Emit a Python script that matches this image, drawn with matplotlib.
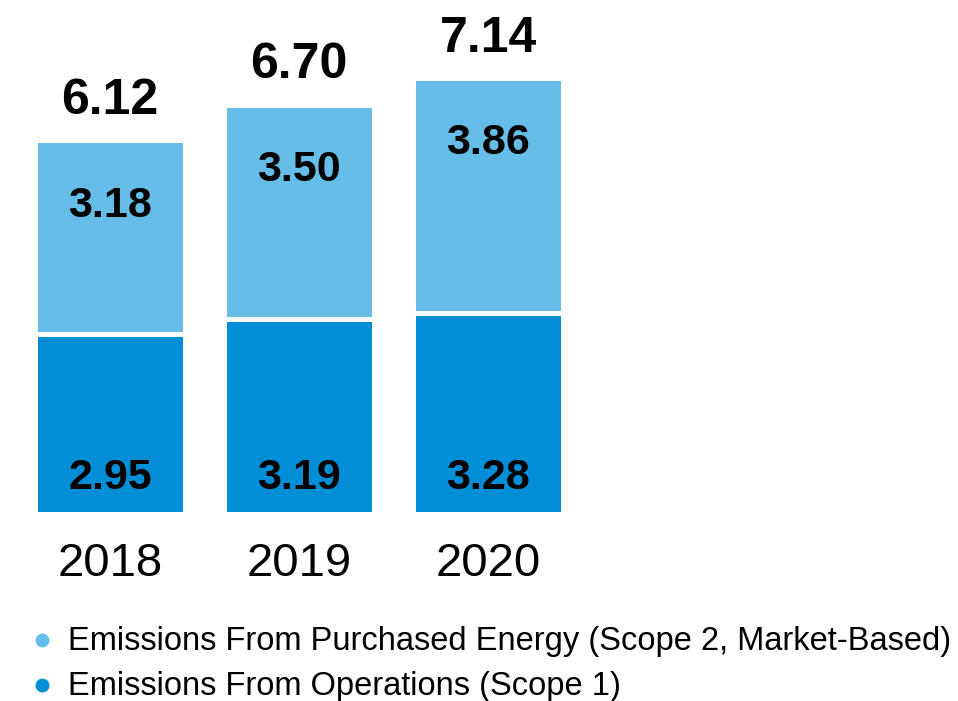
import numpy as np
import matplotlib.pyplot as plt

plt.rcParams['font.family'] = ['Liberation Sans', 'DejaVu Sans']

years = ['2018', '2019', '2020']
scope1 = [2.95, 3.19, 3.28]   # operations
scope2 = [3.18, 3.50, 3.86]   # purchased energy, market-based
totals = [6.12, 6.70, 7.14]
legend_labels = ['Emissions From Purchased Energy (Scope 2, Market-Based)',
                 'Emissions From Operations (Scope 1)']

c_light = '#66BDE8'
c_dark = '#008FD7'

fig = plt.figure(figsize=(9.58, 7.01), dpi=100)
ax = fig.add_axes([0, 0, 1, 1])

x = np.arange(len(years))
px = 189.0   # pixels per category
py = 61.0    # pixels per unit
y0 = 513.5   # pixel row of zero
ax.set_xlim(-110 / px, (958 - 110) / px)
ax.set_ylim(-(701 - y0) / py, y0 / py)
ax.axis('off')

ax.bar(x, scope1, width=0.79, color=c_dark, edgecolor='white', linewidth=3.6)
ax.bar(x, scope2, bottom=scope1, width=0.79, color=c_light, edgecolor='white', linewidth=3.6)

for i in range(len(years)):
    ax.annotate('%.2f' % totals[i], xy=(x[i], totals[i]), xytext=(0, 19),
                textcoords='offset points', ha='center', va='baseline',
                fontsize=36, fontweight='bold')
    ax.annotate('%.2f' % scope2[i], xy=(x[i], totals[i]), xytext=(0, -55),
                textcoords='offset points', ha='center', va='baseline',
                fontsize=31, fontweight='bold')
    ax.annotate('%.2f' % scope1[i], xy=(x[i], 0), xytext=(0, 17.5),
                textcoords='offset points', ha='center', va='baseline',
                fontsize=31, fontweight='bold')
    ax.annotate(years[i], xy=(x[i], 0), xytext=(0, -45),
                textcoords='offset points', ha='center', va='baseline',
                fontsize=34)

# legend
for k, (lab, col) in enumerate(zip(legend_labels, [c_light, c_dark])):
    yb = 1 - (650 + 45 * k) / 701
    fig.text(68 / 958, yb, lab, fontsize=23.5, va='baseline', ha='left')
    fig.lines.append(plt.Line2D([42 / 958], [yb + 10 / 701], marker='o', markersize=9,
                                color=col, transform=fig.transFigure))

fig.savefig('out.png', dpi=100)
